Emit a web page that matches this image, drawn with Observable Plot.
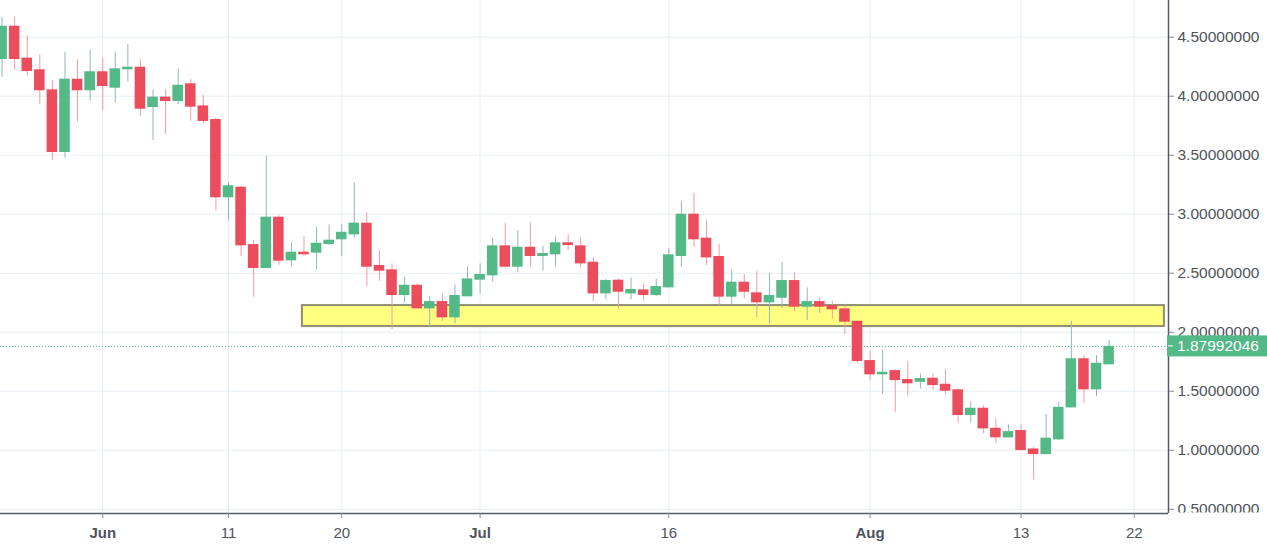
<!DOCTYPE html>
<html>
<head>
<meta charset="utf-8">
<script src="https://cdn.jsdelivr.net/npm/d3@7"></script>
<script src="https://cdn.jsdelivr.net/npm/@observablehq/plot@0.6"></script>
<style>
  html, body { margin: 0; padding: 0; background: #ffffff; overflow: hidden; }
  #chart { width: 1267px; height: 546px; }
</style>
</head>
<body>
<div id="chart"></div>
<script>
// ---- Data ----
const dates = [
  "2018-05-24","2018-05-25","2018-05-26","2018-05-27","2018-05-28","2018-05-29","2018-05-30","2018-05-31",
  "2018-06-01","2018-06-02","2018-06-03","2018-06-04","2018-06-05","2018-06-06","2018-06-07","2018-06-08",
  "2018-06-09","2018-06-10","2018-06-11","2018-06-12","2018-06-13","2018-06-14","2018-06-15","2018-06-16",
  "2018-06-17","2018-06-18","2018-06-19","2018-06-20","2018-06-21","2018-06-22","2018-06-23","2018-06-24",
  "2018-06-25","2018-06-26","2018-06-27","2018-06-28","2018-06-29","2018-06-30",
  "2018-07-01","2018-07-02","2018-07-03","2018-07-04","2018-07-05","2018-07-06","2018-07-07","2018-07-08",
  "2018-07-09","2018-07-10","2018-07-11","2018-07-12","2018-07-13","2018-07-14","2018-07-15","2018-07-16",
  "2018-07-17","2018-07-18","2018-07-19","2018-07-20","2018-07-21","2018-07-22","2018-07-23","2018-07-24",
  "2018-07-25","2018-07-26","2018-07-27","2018-07-28","2018-07-29","2018-07-30","2018-07-31",
  "2018-08-01","2018-08-02","2018-08-03","2018-08-04","2018-08-05","2018-08-06","2018-08-07","2018-08-08",
  "2018-08-09","2018-08-10","2018-08-11","2018-08-12","2018-08-13","2018-08-14","2018-08-15","2018-08-16",
  "2018-08-17","2018-08-18","2018-08-19","2018-08-20"
];
const opens = [
  4.311,4.593,4.322,4.224,4.054,3.523,4.144,4.046,
  4.207,4.068,4.224,4.246,3.904,3.992,3.955,4.105,
  3.918,3.803,3.139,3.229,2.743,2.540,2.975,2.605,
  2.678,2.670,2.743,2.783,2.825,2.924,2.565,2.529,
  2.311,2.398,2.198,2.260,2.122,2.300,
  2.441,2.478,2.732,2.551,2.720,2.642,2.656,2.758,
  2.732,2.593,2.325,2.441,2.325,2.359,2.311,2.376,
  2.642,3.000,2.797,2.642,2.297,2.424,2.334,2.249,
  2.288,2.438,2.212,2.260,2.226,2.198,2.093,
  1.760,1.639,1.675,1.599,1.576,1.610,1.559,1.512,
  1.294,1.356,1.186,1.105,1.167,1.011,0.963,1.088,
  1.359,1.775,1.512,1.724
];
const highs = [
  4.667,4.670,4.514,4.351,4.133,4.373,4.308,4.387,
  4.322,4.373,4.438,4.308,4.054,4.054,4.232,4.140,
  4.006,3.814,3.266,3.237,2.777,3.495,2.985,2.758,
  2.811,2.887,2.910,2.910,3.266,3.012,2.692,2.579,
  2.466,2.410,2.303,2.325,2.402,2.551,
  2.579,2.797,2.924,2.862,2.924,2.729,2.805,2.825,
  2.797,2.630,2.449,2.449,2.461,2.410,2.449,2.707,
  3.110,3.178,2.947,2.743,2.529,2.489,2.517,2.500,
  2.593,2.500,2.376,2.292,2.263,2.226,2.093,
  1.839,1.851,1.680,1.752,1.647,1.647,1.684,1.520,
  1.407,1.380,1.266,1.215,1.215,1.025,1.303,1.407,
  2.093,1.803,1.803,1.930
];
const lows = [
  4.161,4.218,4.170,3.930,3.455,3.475,3.780,3.958,
  3.879,3.941,4.119,3.828,3.625,3.675,3.930,3.788,
  3.766,3.025,2.947,2.642,2.297,2.540,2.565,2.551,
  2.642,2.529,2.735,2.644,2.800,2.387,2.430,2.020,
  2.246,2.198,2.042,2.093,2.071,2.300,
  2.325,2.427,2.545,2.504,2.551,2.517,2.551,2.692,
  2.551,2.260,2.275,2.198,2.277,2.263,2.300,2.376,
  2.551,2.720,2.565,2.226,2.235,2.283,2.122,2.071,
  2.198,2.175,2.099,2.156,2.113,1.980,1.737,
  1.585,1.472,1.317,1.458,1.520,1.506,1.472,1.229,
  1.229,1.139,1.054,1.105,0.997,0.749,0.963,1.085,
  1.359,1.398,1.455,1.724
];
const closes = [
  4.593,4.311,4.209,4.046,3.523,4.144,4.046,4.207,
  4.082,4.232,4.246,3.890,3.992,3.955,4.093,3.907,
  3.786,3.139,3.241,2.732,2.540,2.975,2.602,2.678,
  2.656,2.754,2.780,2.847,2.924,2.551,2.517,2.311,
  2.398,2.198,2.260,2.122,2.311,2.452,
  2.489,2.732,2.551,2.720,2.642,2.667,2.758,2.735,
  2.579,2.325,2.438,2.339,2.362,2.311,2.387,2.656,
  3.000,2.783,2.630,2.297,2.424,2.339,2.249,2.311,
  2.438,2.212,2.260,2.212,2.190,2.085,1.752,
  1.639,1.661,1.590,1.563,1.607,1.548,1.500,1.294,
  1.356,1.181,1.105,1.158,0.997,0.963,1.102,1.364,
  1.775,1.512,1.737,1.880
];
const lastPrice = 1.87992046;
const lastPriceLabel = "1.87992046";

// support zone (yellow box)
const zoneStart = "2018-06-16T21:00:00Z";
const zoneEnd = "2018-08-24T09:30:00Z";
const zoneLow = 2.048;
const zoneHigh = 2.226;

// axis ticks
const yTicks = [0.5, 1.0, 1.5, 2.0, 2.5, 3.0, 3.5, 4.0, 4.5];
const monthTickDates = ["2018-06-01", "2018-07-01", "2018-08-01"];
const monthTickLabels = ["Jun", "Jul", "Aug"];
const dayTickDates = ["2018-06-11", "2018-06-20", "2018-07-16", "2018-08-13", "2018-08-22"];
const dayTickLabels = ["11", "20", "16", "13", "22"];

// view window
const xStart = "2018-05-23T21:00:00Z";
const xEnd = "2018-08-24T17:20:00Z";
const yMin = 0.464;
const yMax = 4.811;

// ---- Styles ----
const upColor = "#53b987";
const downColor = "#eb4d5c";
const upWick = "#8fb6c0";
const downWick = "#f19aa3";
const gridColor = "#e6eef4";
const axisColor = "#555b66";
const textColor = "#4f535b";
const FONT = "'Liberation Sans', Arial, sans-serif";

// ---- Build ----
const DAY = 864e5;
const utc = s => new Date(s.length === 10 ? s + "T00:00:00Z" : s);
const candles = dates.map((d, i) => ({
  date: utc(d), open: opens[i], high: highs[i], low: lows[i], close: closes[i]
}));
const isUp = d => d.close >= d.open;
const zone = [{start: utc(zoneStart), end: utc(zoneEnd), low: zoneLow, high: zoneHigh}];
const labelMap = new Map();
monthTickDates.forEach((d, i) => labelMap.set(+utc(d), monthTickLabels[i]));
dayTickDates.forEach((d, i) => labelMap.set(+utc(d), dayTickLabels[i]));
const monthTicks = monthTickDates.map(utc);
const dayTicks = dayTickDates.map(utc);
const allTicks = monthTicks.concat(dayTicks);
const xDomain = [utc(xStart), utc(xEnd)];
const yDomain = [yMin, yMax];
const halfBody = 0.42 * DAY;

const plot = Plot.plot({
  width: 1267,
  height: 546,
  marginTop: 0,
  marginRight: 99,
  marginBottom: 33,
  marginLeft: 0,
  style: {fontFamily: FONT, background: "#ffffff", overflow: "visible"},
  x: {type: "utc", domain: xDomain},
  y: {domain: yDomain},
  marks: [
    Plot.gridY(yTicks, {stroke: gridColor, strokeOpacity: 1, strokeWidth: 1}),
    Plot.gridX(allTicks, {stroke: gridColor, strokeOpacity: 1, strokeWidth: 1}),
    Plot.rect(zone, {x1: "start", x2: "end", y1: "low", y2: "high",
      fill: "#ffff80", stroke: "#8e8e70", strokeWidth: 2}),
    Plot.ruleY([lastPrice], {stroke: upColor, strokeDasharray: "1,2", strokeWidth: 1}),
    Plot.ruleX(candles, {x: "date", y1: "low", y2: "high",
      stroke: d => isUp(d) ? upWick : downWick, strokeWidth: 1}),
    Plot.rect(candles, {
      x1: d => new Date(+d.date - halfBody),
      x2: d => new Date(+d.date + halfBody),
      y1: "open", y2: "close",
      fill: d => isUp(d) ? upColor : downColor
    }),
    // frame lines
    Plot.ruleX([xDomain[1]], {stroke: axisColor, strokeWidth: 1.5}),
    Plot.ruleY([yDomain[0]], {stroke: axisColor, strokeWidth: 1.5}),
    // axes
    Plot.axisY(yTicks, {anchor: "right", tickSize: 5, tickPadding: 4,
      tickFormat: d3.format(".8f"), fontSize: 15.5, color: textColor, stroke: "#888"}),
    Plot.axisX(monthTicks, {anchor: "bottom", tickSize: 5, tickPadding: 9,
      tickFormat: d => labelMap.get(+d), fontSize: 15, fontWeight: "bold", color: textColor, stroke: "#888"}),
    Plot.axisX(dayTicks, {anchor: "bottom", tickSize: 5, tickPadding: 9,
      tickFormat: d => labelMap.get(+d), fontSize: 15, color: textColor, stroke: "#888"})
  ]
});

document.getElementById("chart").appendChild(plot);

// Post-process: hide the part of right-axis labels below the plot bottom, then the last price tag.
const svg = d3.select(plot);
const yScale = plot.scale("y");
const xScale = plot.scale("x");
const bottomY = yScale.apply(yDomain[0]);
const rightX = xScale.apply(xDomain[1]);
svg.append("rect")
  .attr("x", rightX + 1).attr("y", bottomY - 0.5)
  .attr("width", 1267 - rightX).attr("height", 546 - bottomY + 1)
  .attr("fill", "#ffffff");

const py = yScale.apply(lastPrice);
const tag = svg.append("g");
tag.append("rect")
  .attr("x", rightX - 1).attr("y", py - 10.5)
  .attr("width", 1267 - rightX + 1).attr("height", 21)
  .attr("fill", upColor);
tag.append("line")
  .attr("x1", rightX).attr("x2", rightX + 5)
  .attr("y1", py).attr("y2", py)
  .attr("stroke", "#ffffff").attr("stroke-width", 1);
tag.append("text")
  .attr("x", rightX + 9).attr("y", py)
  .attr("dy", "0.36em")
  .attr("text-anchor", "start")
  .attr("fill", "#ffffff")
  .attr("font-family", FONT)
  .attr("font-size", 15.5)
  .text(lastPriceLabel);
</script>
</body>
</html>
